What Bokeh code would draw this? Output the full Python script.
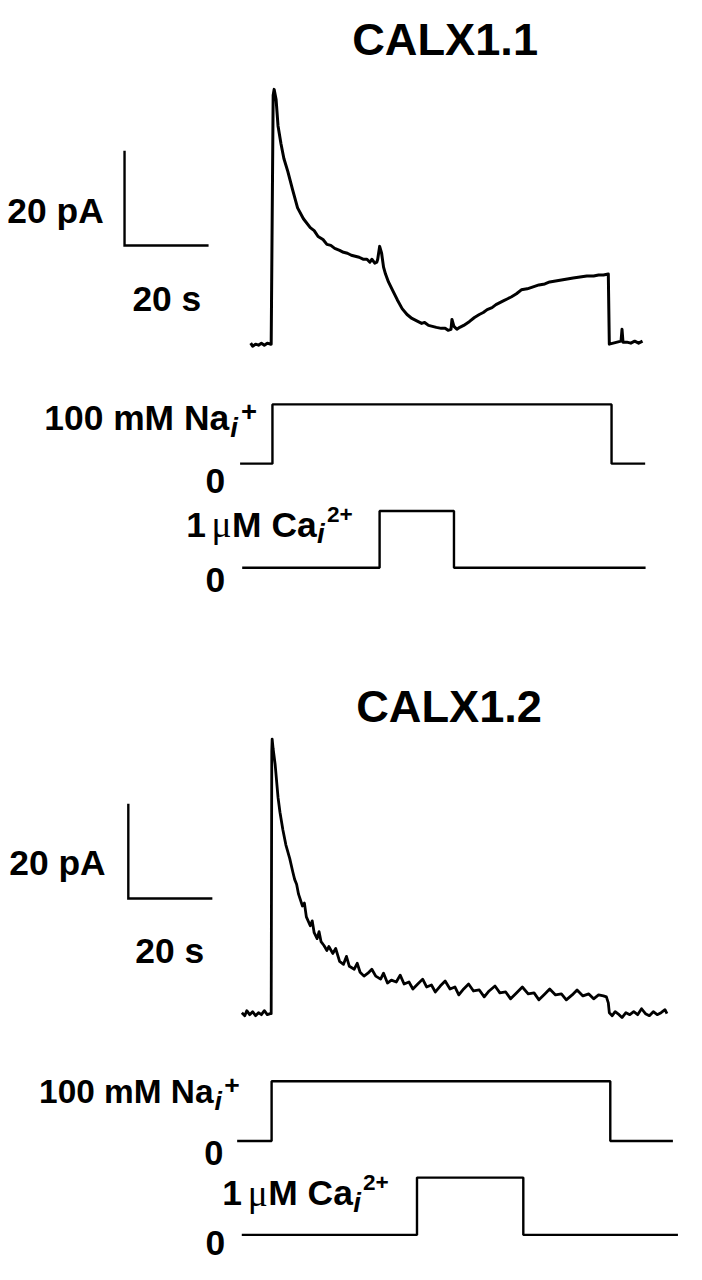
from bokeh.plotting import figure
from bokeh.models import Range1d
from bokeh.embed import file_html
from bokeh.resources import INLINE
from bokeh.core.properties import value

# ---------------- data (time in s, current in pA) ----------------
calx11_t = [-4.88, -4.42, -3.72, -3.02, -2.33, -1.63, -0.93, -0.23, 0.0, 0.47, 0.70, 1.16, 1.63, 2.33, 3.02,
            3.95, 5.12, 6.28, 7.67, 9.30, 10.23, 11.16, 12.33, 13.26, 14.19, 15.12, 16.28, 17.21, 18.14, 19.07,
            20.0, 20.93, 21.86, 22.79, 23.49, 23.95, 24.65, 25.12, 25.35, 25.81, 26.28, 26.74, 27.21, 27.91,
            28.84, 30.0, 31.16, 32.33, 33.49, 34.88, 35.81, 36.51, 37.44, 38.37, 39.30, 40.47, 41.40, 42.09,
            42.79, 43.02, 43.49, 44.19, 44.88, 45.81, 47.21, 48.37, 49.53, 50.47, 51.40, 52.56, 53.49, 54.42,
            55.35, 56.28, 57.21, 58.37, 59.53, 60.93, 62.33, 63.72, 65.12, 66.28, 67.67, 69.07, 70.47, 71.86,
            73.49, 75.12, 76.74, 77.91, 79.07, 80.23, 80.47, 81.40, 82.33, 83.26, 83.49, 83.72, 84.65, 85.58,
            86.51, 87.44, 88.37]
calx11_pA = [0.21, -0.42, 0, -0.21, 0.21, -0.21, 0.21, 0, 0, 52.5, 53.75, 51.67, 46.04, 42.29, 39.17,
             36.46, 32.5, 28.75, 26.46, 24.58, 23.96, 22.71, 22.08, 21.04, 20.83, 20.21, 19.79, 19.38, 19.17, 18.75,
             18.54, 18.33, 17.92, 17.92, 17.29, 17.92, 17.08, 17.29, 17.92, 20.63, 19.17, 16.25, 14.79, 13.13,
             11.46, 9.38, 7.5, 6.25, 5.42, 4.79, 4.38, 4.58, 3.96, 3.75, 3.54, 3.33, 3.33, 2.92,
             3.13, 5.21, 3.75, 3.13, 3.54, 3.96, 4.79, 5.63, 6.25, 6.67, 7.29, 7.71, 8.33, 8.75,
             9.17, 9.58, 10.0, 10.63, 11.46, 11.67, 12.08, 12.5, 12.71, 13.13, 13.33, 13.54, 13.75, 13.96,
             14.17, 14.38, 14.38, 14.58, 14.58, 14.79, 0, 0.21, 0.42, 0.63, 3.13, 0.42, 0.42, 0.21,
             0.63, 0.21, 0.63]

calx12_t = [-6.98, -6.28, -5.81, -5.12, -4.42, -3.72, -3.02, -2.33, -1.63, -0.93,
            -0.23, 0.0, 0.14, 0.23, 0.47, 0.93, 1.63, 2.09, 2.79, 3.49,
            4.42, 5.12, 5.58, 6.05, 6.51, 7.44, 7.91, 8.37, 9.30, 9.77,
            10.23, 10.93, 11.40, 11.86, 12.56, 13.26, 13.72, 14.65, 15.35, 16.28,
            17.21, 17.91, 18.60, 19.77, 20.47, 21.16, 22.09, 23.02, 23.95, 24.88,
            26.05, 26.74, 27.67, 28.60, 29.77, 30.70, 31.63, 32.79, 33.72, 34.88,
            36.05, 36.98, 38.14, 39.07, 40.23, 41.40, 42.56, 43.72, 44.65, 45.81,
            46.98, 48.14, 49.53, 50.70, 51.86, 53.26, 54.42, 55.81, 56.98, 58.37,
            59.77, 61.16, 62.56, 63.72, 65.12, 66.28, 67.67, 69.07, 70.23, 71.63,
            72.79, 74.19, 75.58, 76.74, 77.91, 79.07, 79.77, 80.23, 80.47, 81.16,
            81.86, 82.79, 83.49, 84.42, 85.35, 86.28, 87.21, 88.14, 89.07, 90.0,
            90.93, 91.86, 92.79, 93.72, 94.19]
calx12_pA = [0.21, -0.42, 0.63, -0.21, 0.42, -0.42, 0.21, -0.21, 0.63, -0.21,
             0, 0, 55.42, 57.92, 55.83, 52.71, 45.63, 42.5, 38.75, 35.63,
             32.71, 30.0, 28.33, 27.29, 25.21, 22.71, 23.33, 20.42, 18.54, 19.58,
             17.08, 15.83, 17.29, 15.21, 14.38, 13.33, 14.17, 12.71, 13.75, 11.04,
             10.42, 12.08, 10.0, 9.38, 10.63, 8.75, 7.92, 8.54, 9.38, 7.92,
             7.29, 8.54, 6.46, 7.08, 6.67, 8.13, 6.25, 6.67, 5.21, 6.25,
             7.29, 5.63, 6.04, 4.58, 5.83, 6.88, 5.21, 5.63, 3.96, 5.21,
             6.25, 4.79, 5.0, 3.54, 4.79, 5.83, 4.38, 4.58, 3.13, 4.38,
             5.63, 4.17, 4.38, 2.92, 4.17, 5.21, 3.96, 4.17, 2.92, 3.96,
             5.0, 3.75, 4.17, 3.13, 3.96, 3.75, 3.54, 2.29, 0.21, -0.42,
             0.42, -0.21, -0.83, 0.21, -0.21, 0.42, -0.21, 1.04, 0, -0.42,
             0.42, -0.21, 0.21, 0.83, 0]

# solution steps: [start, on, off, end] times (s) and levels
na1_t = [-7.4, 0.3, 81.0, 89.0]
na1_mM = [0, 100, 0, 0]
ca1_t = [-6.9, 25.8, 43.5, 89.1]
ca1_uM = [0, 1, 0, 0]
na2_t = [-8.1, 0.1, 80.7, 95.6]
na2_mM = [0, 100, 0, 0]
ca2_t = [-7.0, 34.7, 60.0, 96.8]
ca2_uM = [0, 1, 0, 0]

scale_s = 20
scale_pA = 20

# ---------------- layout ----------------
W, H = 686, 1264              # figure size in screen px
RW, RH = 702, 1280            # layout units (reference frame)
PX_PER_S = 4.3                # layout units per second
T0_X = 277                    # layout x of t = 0
FS = 0.982                    # font scale (layout -> screen)

t_start = -T0_X / PX_PER_S
t_end = (RW - T0_X) / PX_PER_S


def yrange(zero_y, per_unit):
    s = -(RH - zero_y) / per_unit
    return Range1d(s, s + RH / per_unit)


p = figure(width=W, height=H, x_range=Range1d(t_start, t_end), y_range=Range1d(RH, 0),
           output_backend="svg", toolbar_location=None, min_border=0,
           x_axis_location=None, y_axis_location=None)
p.grid.visible = False
p.outline_line_color = None
p.background_fill_color = "white"
p.border_fill_color = "white"

p.extra_x_ranges = {"px": Range1d(0, RW)}
p.extra_y_ranges = {
    "i1": yrange(348, 4.8),
    "na1": yrange(469, 0.60),
    "ca1": yrange(574.5, 57.5),
    "i2": yrange(1026, 4.8),
    "na2": yrange(1155, 0.605),
    "ca2": yrange(1250, 58.0),
}

LW = 2.4
# current traces
p.line(calx11_t, calx11_pA, y_range_name="i1", line_color="black", line_width=3.0, line_join="round")
p.line(calx12_t, calx12_pA, y_range_name="i2", line_color="black", line_width=2.8, line_join="round")

# solution steps
p.step(na1_t, na1_mM, mode="after", y_range_name="na1", line_color="black", line_width=LW)
p.step(ca1_t, ca1_uM, mode="after", y_range_name="ca1", line_color="black", line_width=LW)
p.step(na2_t, na2_mM, mode="after", y_range_name="na2", line_color="black", line_width=LW)
p.step(ca2_t, ca2_uM, mode="after", y_range_name="ca2", line_color="black", line_width=LW)

# scale bars (corner in data units)
for rng, (ct, ci) in (("i1", (-34.9, 20.8)), ("i2", (-34.0, 24.3))):
    p.line([ct, ct, ct + scale_s], [ci + scale_pA, ci, ci], y_range_name=rng,
           line_color="black", line_width=LW, line_join="miter")

FONT = "Liberation Sans"


def txt(s, x, y, size, align="left", style="bold", font=FONT):
    p.text(x=[x], y=[y], text=[s], x_range_name="px",
           text_font=value(font), text_font_size=value(f"{size * FS:.1f}px"),
           text_font_style=value(style), text_align=value(align),
           text_baseline=value("alphabetic"), text_color="black")


# panel 1
txt("CALX1.1", 455, 39, 46, "center")
txt(f"{scale_pA} pA", 7, 213, 36)
txt(f"{scale_s} s", 135, 302, 36)
txt("100 mM Na", 234, 423, 36, "right")
txt("i", 235, 432, 28, "left", "bold italic")
txt("+", 246, 416, 28)
txt("0", 230, 487, 36, "right")
txt("1", 190, 531, 36)
txt("\u03bc", 216, 531, 38, "left", "normal", "Liberation Serif")
txt("M Ca", 237, 531, 36)
txt("i", 324, 540, 28, "left", "bold italic")
txt("2+", 334, 521, 23)
txt("0", 230, 587, 36, "right")

# panel 2
txt("CALX1.2", 459, 715, 46, "center")
txt(f"{scale_pA} pA", 9, 873, 36)
txt(f"{scale_s} s", 138, 963, 36)
txt("100 mM Na", 218, 1105, 34, "right")
txt("i", 219, 1114, 27, "left", "bold italic")
txt("+", 229, 1098, 27)
txt("0", 228, 1167, 35, "right")
txt("1", 227, 1208, 36)
txt("\u03bc", 253, 1208, 38, "left", "normal", "Liberation Serif")
txt("M Ca", 274, 1208, 36)
txt("i", 361, 1217, 28, "left", "bold italic")
txt("2+", 371, 1197, 23)
txt("0", 230, 1258, 36, "right")

open("out.html", "w").write(file_html(p, INLINE))
